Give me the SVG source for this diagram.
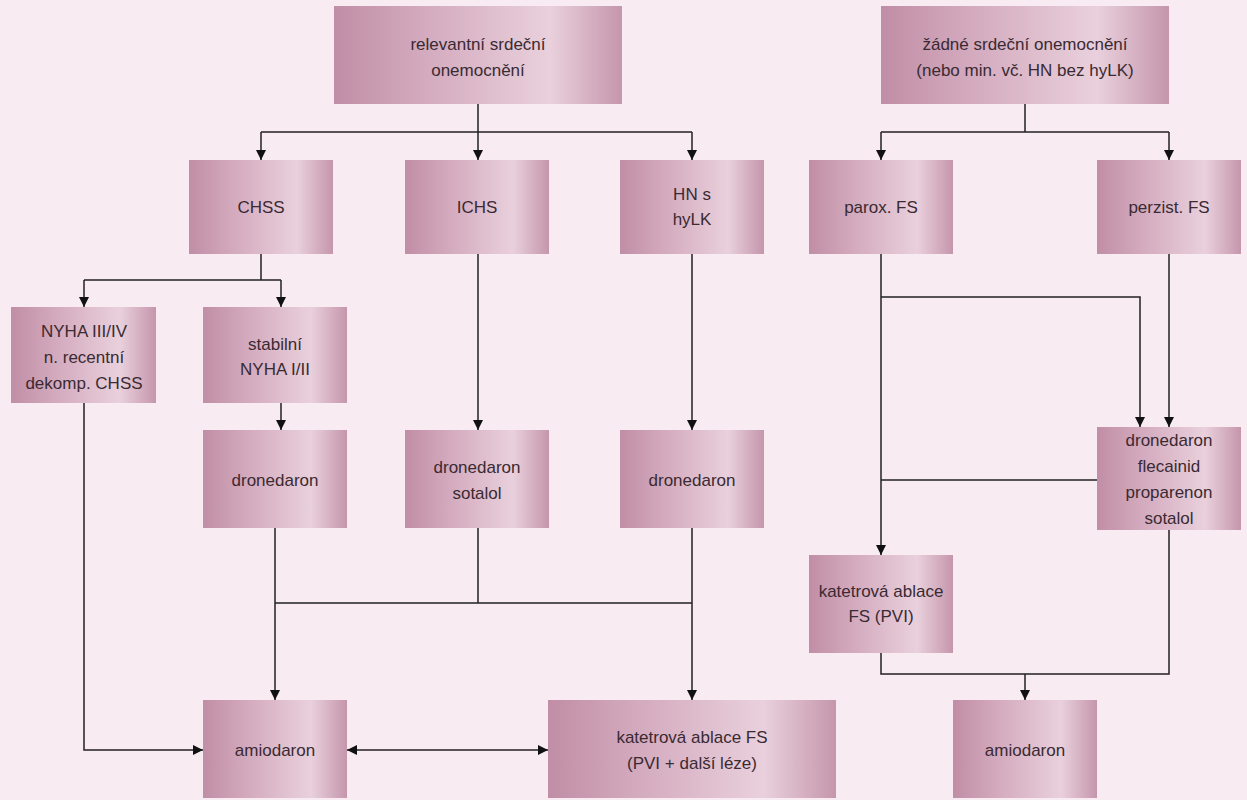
<svg xmlns="http://www.w3.org/2000/svg" width="1247" height="800" viewBox="0 0 1247 800">
<defs>
<linearGradient id="g" x1="0" y1="0" x2="1" y2="0">
<stop offset="0" stop-color="#c08ea6"/>
<stop offset="0.3" stop-color="#d3a9bd"/>
<stop offset="0.75" stop-color="#e9d0dc"/>
<stop offset="1" stop-color="#c596ac"/>
</linearGradient>
<marker id="a" viewBox="0 0 10 10" refX="10" refY="5" markerWidth="10" markerHeight="10" markerUnits="userSpaceOnUse" orient="auto-start-reverse">
<path d="M0,0 L10,5 L0,10 z" fill="#111"/>
</marker>
</defs>
<style>
.n rect{fill:url(#g)}
.n text{font-family:"Liberation Sans",Arial,sans-serif;font-size:17px;fill:#3a2a32;text-anchor:middle}
.c path{fill:none;stroke:#222;stroke-width:1.5}
.c .ar{marker-end:url(#a)}
</style>
<rect width="1247" height="800" fill="#f9ebf2"/>
<g class="c">
<path d="M478,104 V132 M261,132 H692"/>
<path class="ar" d="M261,132 V160"/><path class="ar" d="M478,132 V160"/><path class="ar" d="M692,132 V160"/>
<path d="M1025,104 V132 M881,132 H1169"/>
<path class="ar" d="M881,132 V160"/><path class="ar" d="M1169,132 V160"/>
<path d="M261,254 V280 M84,280 H281"/>
<path class="ar" d="M84,280 V307"/><path class="ar" d="M281,280 V307"/>
<path class="ar" d="M281,403 V430"/>
<path class="ar" d="M478,254 V430"/><path class="ar" d="M692,254 V430"/>
<path class="ar" d="M275,528 V700"/><path d="M478,528 V603 M275,603 H692"/><path class="ar" d="M692,528 V700"/>
<path class="ar" d="M84,403 V750 H203"/>
<path d="M347,750 H548" marker-start="url(#a)" marker-end="url(#a)"/>
<path class="ar" d="M881,254 V555"/>
<path class="ar" d="M881,297 H1140 V427"/>
<path class="ar" d="M1169,254 V427"/>
<path d="M881,480 H1097"/>
<path d="M881,653 V674 H1169 V530"/>
<path class="ar" d="M1025,674 V700"/>
</g>
<g id="n1" class="n"><rect x="334" y="6" width="288" height="98"/><text x="478" y="50">relevantní srdeční</text><text x="478" y="76">onemocnění</text></g>
<g id="n2" class="n"><rect x="881" y="6" width="288" height="98"/><text x="1025" y="50">žádné srdeční onemocnění</text><text x="1025" y="76">(nebo min. vč. HN bez hyLK)</text></g>
<g id="n3" class="n"><rect x="189" y="160" width="144" height="94"/><text x="261" y="213">CHSS</text></g>
<g id="n4" class="n"><rect x="405" y="160" width="144" height="94"/><text x="477" y="213">ICHS</text></g>
<g id="n5" class="n"><rect x="620" y="160" width="144" height="94"/><text x="692" y="200">HN s</text><text x="692" y="225">hyLK</text></g>
<g id="n6" class="n"><rect x="809" y="160" width="144" height="94"/><text x="881" y="213">parox. FS</text></g>
<g id="n7" class="n"><rect x="1097" y="160" width="144" height="94"/><text x="1169" y="213">perzist. FS</text></g>
<g id="n8" class="n"><rect x="11" y="307" width="145" height="96"/><text x="84" y="337">NYHA III/IV</text><text x="84" y="363">n. recentní</text><text x="84" y="389">dekomp. CHSS</text></g>
<g id="n9" class="n"><rect x="203" y="307" width="144" height="96"/><text x="275" y="350">stabilní</text><text x="275" y="375">NYHA I/II</text></g>
<g id="n10" class="n"><rect x="203" y="430" width="144" height="98"/><text x="275" y="486">dronedaron</text></g>
<g id="n11" class="n"><rect x="405" y="430" width="144" height="98"/><text x="477" y="473">dronedaron</text><text x="477" y="499">sotalol</text></g>
<g id="n12" class="n"><rect x="620" y="430" width="144" height="98"/><text x="692" y="486">dronedaron</text></g>
<g id="n13" class="n"><rect x="1097" y="427" width="144" height="103"/><text x="1169" y="446">dronedaron</text><text x="1169" y="472">flecainid</text><text x="1169" y="498">proparenon</text><text x="1169" y="524">sotalol</text></g>
<g id="n14" class="n"><rect x="809" y="555" width="144" height="98"/><text x="881" y="597">katetrová ablace</text><text x="881" y="622">FS (PVI)</text></g>
<g id="n15" class="n"><rect x="203" y="700" width="144" height="98"/><text x="275" y="756">amiodaron</text></g>
<g id="n16" class="n"><rect x="548" y="700" width="288" height="98"/><text x="692" y="743">katetrová ablace FS</text><text x="692" y="769">(PVI + další léze)</text></g>
<g id="n17" class="n"><rect x="953" y="700" width="144" height="98"/><text x="1025" y="756">amiodaron</text></g>
</svg>
